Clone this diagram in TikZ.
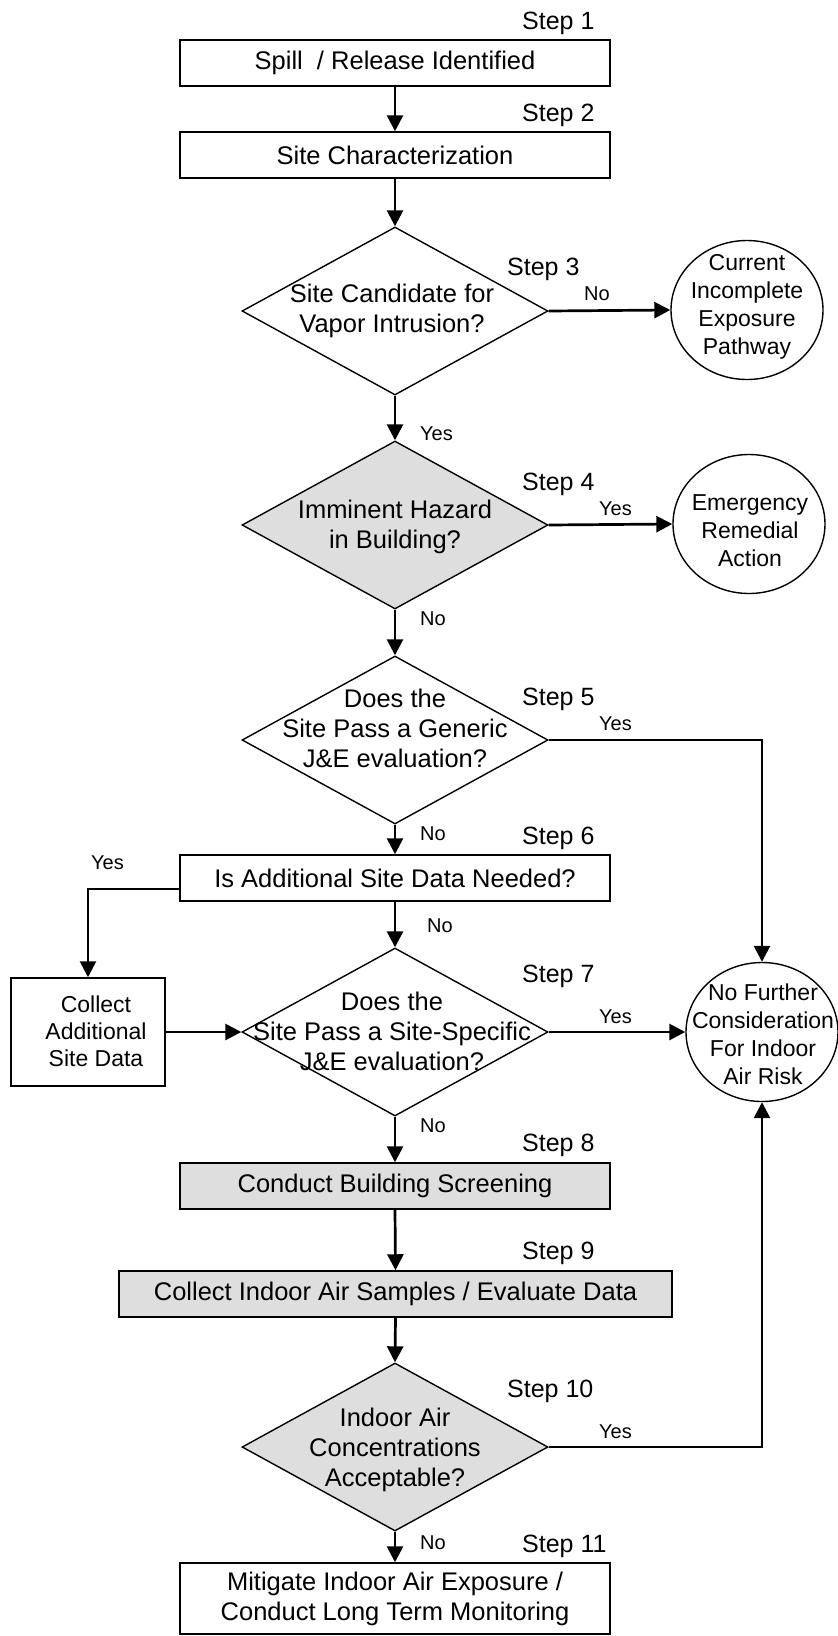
\documentclass[tikz,border=0pt]{standalone}
\usepackage{fontspec}
\setmainfont{Liberation Sans}
\usetikzlibrary{shapes.geometric,arrows.meta}
\begin{document}
\begin{tikzpicture}[x=1pt,y=-1pt,
 box/.style={draw,line width=1.5pt,rectangle,minimum width=430pt,minimum height=46pt,inner sep=0pt,font=\fontsize{25.5}{30}\selectfont,align=center},
 dia/.style={draw,line width=1.4pt,diamond,minimum width=306pt,minimum height=168pt,inner sep=0pt},
 oval/.style={draw,line width=1.4pt,ellipse,minimum width=152pt,minimum height=139pt,inner sep=0pt},
 txt/.style={font=\fontsize{25.5}{30}\selectfont,align=center,inner sep=0pt},
 ctxt/.style={font=\fontsize{23}{28}\selectfont,align=center,inner sep=0pt},
 steplbl/.style={font=\fontsize{25}{30}\selectfont,anchor=base west,inner sep=0pt},
 yn/.style={font=\fontsize{20}{24}\selectfont,anchor=base west,inner sep=0pt},
 conn/.style={line width=2.7pt,-{Triangle[length=16pt,width=16pt]}},
 shade/.style={fill=black!13}
]
\useasboundingbox (0,0) rectangle (838,1636);

% boxes
\node[box] (b1) at (395,63) {Spill \ / Release Identified};
\node[box] (b2) at (395,155) {Site Characterization};
\node[box] (b6) at (395,878) {Is Additional Site Data Needed?};
\node[box,shade] (b8) at (395,1186) {Conduct Building Screening};
\node[box,shade,minimum width=553pt] (b9) at (395.5,1294) {Collect Indoor Air Samples / Evaluate Data};
\node[box,minimum height=71pt] (b11) at (395,1598.5) {Mitigate Indoor Air Exposure /\\Conduct Long Term Monitoring};
\node[box,minimum width=154pt,minimum height=108pt] (bc) at (88,1032) {};
\node[ctxt,font=\fontsize{23}{27}\selectfont] (bct) at (96,1031) {Collect\\Additional\\Site Data};

% diamonds
\node[dia] (d1) at (395,311) {};
\node[txt] (d1t) at (392,311) {Site Candidate for\\Vapor Intrusion?};
\node[dia,shade] (d2) at (395,525) {};
\node[txt] (d2t) at (395,527) {Imminent Hazard\\in Building?};
\node[dia] (d3) at (395,740) {};
\node[txt] (d3t) at (395,728) {Does the\\Site Pass a Generic\\J\&E evaluation?};
\node[dia] (d4) at (395,1032) {};
\node[txt] (d4t) at (392,1031) {Does the\\Site Pass a Site-Specific\\J\&E evaluation?};
\node[dia,shade] (d5) at (395,1447) {};
\node[txt] (d5t) at (395,1450) {Indoor Air\\Concentrations\\Acceptable?};

% ovals
\node[oval] (c1) at (747,310) {};
\node[ctxt] (c1t) at (747,307) {Current\\Incomplete\\Exposure\\Pathway};
\node[oval] (c2) at (749,524) {};
\node[ctxt] (c2t) at (750,531) {Emergency\\Remedial\\Action};
\node[oval] (c3) at (762,1032) {};
\node[ctxt] (c3t) at (763,1034) {No Further\\Consideration\\For Indoor\\Air Risk};

% step labels
\node[steplbl] (s1) at (522,29) {Step 1};
\node[steplbl] (s2) at (522,121) {Step 2};
\node[steplbl] (s3) at (507,275) {Step 3};
\node[steplbl] (s4) at (522,490) {Step 4};
\node[steplbl] (s5) at (522,705) {Step 5};
\node[steplbl] (s6) at (522,844) {Step 6};
\node[steplbl] (s7) at (522,982) {Step 7};
\node[steplbl] (s8) at (522,1151) {Step 8};
\node[steplbl] (s9) at (522,1259) {Step 9};
\node[steplbl] (s10) at (507,1397) {Step 10};
\node[steplbl] (s11) at (522,1552) {Step 11};

% yes / no labels
\node[yn] (l1) at (584,300) {No};
\node[yn] (l2) at (420,440) {Yes};
\node[yn] (l3) at (599,515) {Yes};
\node[yn] (l4) at (420,625) {No};
\node[yn] (l5) at (599,730) {Yes};
\node[yn] (l6) at (420,840) {No};
\node[yn] (l7) at (91,869) {Yes};
\node[yn] (l8) at (427,932) {No};
\node[yn] (l9) at (599,1023) {Yes};
\node[yn] (l10) at (420,1132) {No};
\node[yn] (l11) at (599,1438) {Yes};
\node[yn] (l12) at (420,1549) {No};

% helper coordinates
\coordinate (k3) at (762,740);
\coordinate (k5) at (762,1447);
\coordinate (k6a) at (181,889);
\coordinate (k6b) at (88,889);

% connectors
\draw[conn] (b1.south) -- (b2.north);
\draw[conn] (b2.south) -- (d1.north);
\draw[conn] (d1.east) -- (c1.west);
\draw[conn] (d1.south) -- (d2.north);
\draw[conn] (d2.east) -- (c2.west);
\draw[conn] (d2.south) -- (d3.north);
\draw[conn] (d3.east) -- (k3) -- (c3.north);
\draw[conn] (d3.south) -- (b6.north);
\draw[conn] (k6a) -- (k6b) -- (bc.north);
\draw[conn] (b6.south) -- (d4.north);
\draw[conn] (bc.east) -- (d4.west);
\draw[conn] (d4.east) -- (c3.west);
\draw[conn] (d4.south) -- (b8.north);
\draw[conn] (b8.south) -- (b9.north);
\draw[conn] (b9.south) -- (d5.north);
\draw[conn] (d5.east) -- (k5) -- (c3.south);
\draw[conn] (d5.south) -- (b11.north);
\end{tikzpicture}
\end{document}
